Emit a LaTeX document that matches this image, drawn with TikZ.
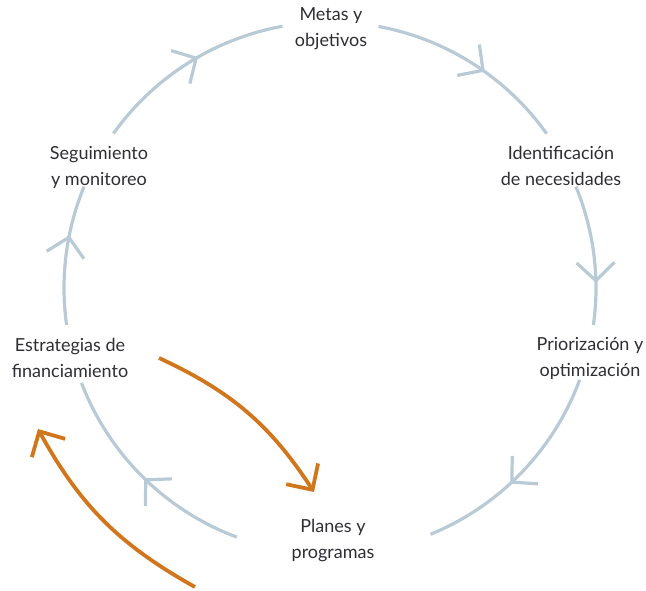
\documentclass[tikz,border=0pt]{standalone}
\usepackage{fontspec}
\setmainfont{Lato}
\usetikzlibrary{arrows.meta,decorations.markings}
\definecolor{cyclegray}{HTML}{B9CAD7}
\definecolor{floworange}{HTML}{D2761E}
\definecolor{txtdark}{HTML}{2E2E33}
\tikzset{
    lbl/.style={align=center, text=txtdark, inner sep=0pt,
        font=\fontsize{18}{26}\selectfont},
    cyclearc/.style={color=cyclegray, line width=3.2pt},
    flowarr/.style={color=floworange, line width=3.8pt,
        -{Straight Barb[length=19pt,width=38pt,line width=3.8pt]}},
}
\begin{document}
\begin{tikzpicture}[x=1pt,y=1pt]
        \useasboundingbox (0,0) rectangle (646,590);
        \def\R{266}
        \coordinate (c) at (330,302);

        % stages of the cycle
        \node[lbl] (metas) at (331,561) {Metas y\\objetivos};
        \node[lbl] (ident) at (561,424) {Identificación\\de necesidades};
        \node[lbl] (prior) at (590,232) {Priorización y\\optimización};
        \node[lbl] (planes) at (333,49) {Planes y\\programas};
        \node[lbl] (estrat) at (70,232) {Estrategias de\\financiamiento};
        \node[lbl] (segui) at (99,423) {Seguimiento\\y monitoreo};

        % arcs of the circle, clockwise
        \foreach \a/\b/\p in {79.5/35.5/0.57, 22.4/-8/0.70, -20.2/-67.8/0.57,
                -110.5/-159.1/0.49, 188/157.6/0.64, 144.5/100.3/0.56}
            \draw[cyclearc, postaction={decorate, decoration={markings,
                    mark=at position \p with {\arrow{Straight Barb[length=18pt,width=38pt,line width=3.2pt]}}}}]
                ([shift={(\a:\R)}]c) arc[start angle=\a, end angle=\b, radius=\R];

        % financing loop
        \coordinate (finS) at (159,232);
        \coordinate (finE) at (314,98);
        \coordinate (retS) at (195,3);
        \coordinate (retE) at (38,161);
        \draw[flowarr] (finS) to[bend left=16] (finE);
        \draw[flowarr] (retS) to[bend left=16] (retE);
\end{tikzpicture}
\end{document}
